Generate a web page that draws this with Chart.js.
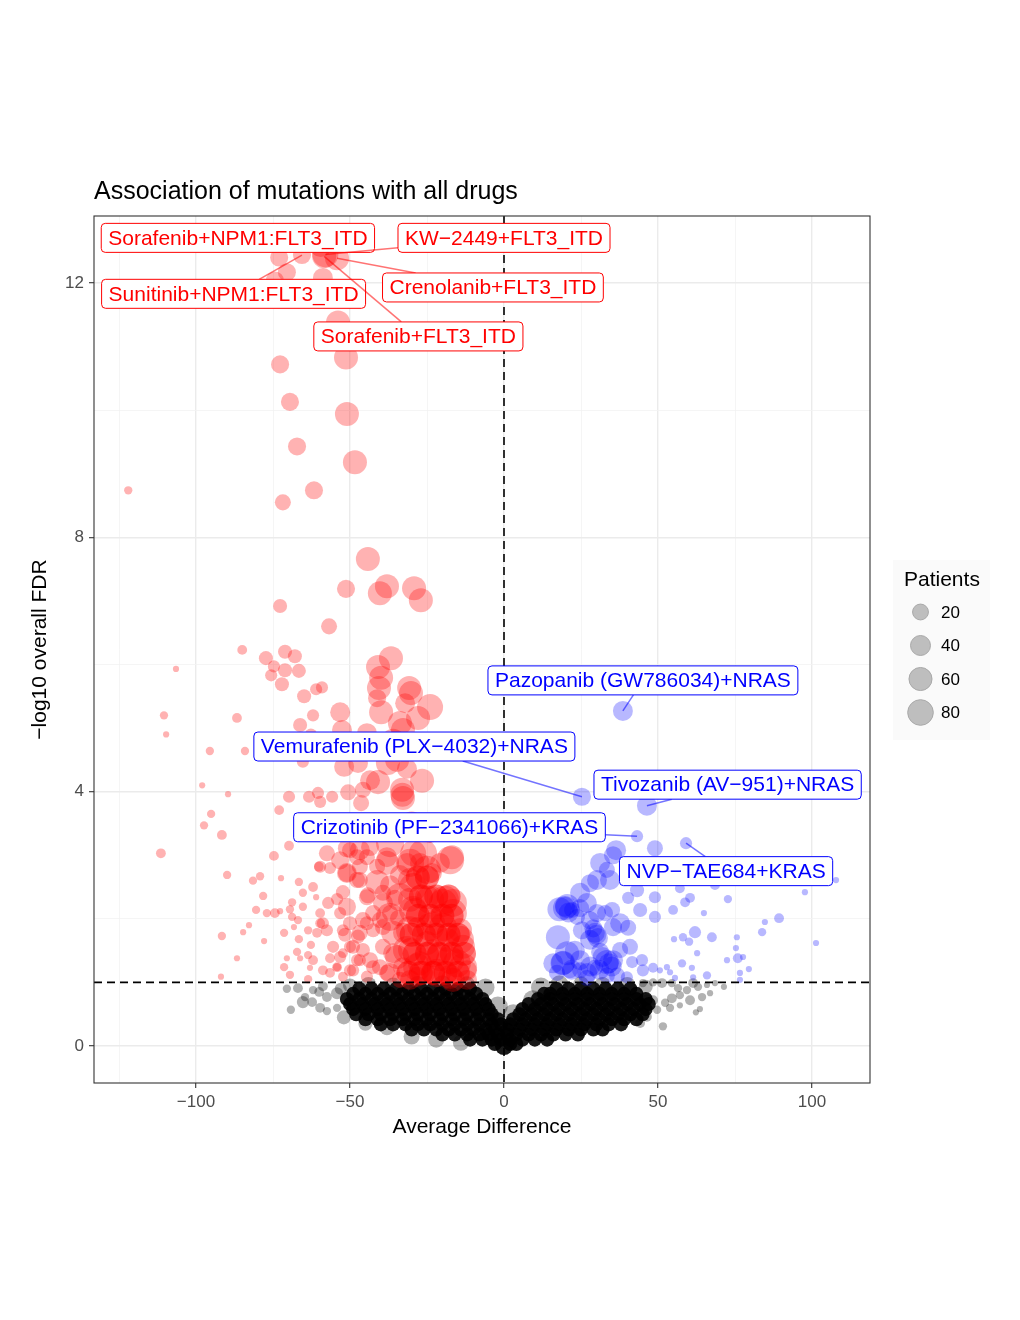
<!DOCTYPE html>
<html>
<head>
<meta charset="utf-8">
<script src="https://cdn.jsdelivr.net/npm/chart.js@4.4.1/dist/chart.umd.min.js"></script>
<style>
html, body { margin: 0; padding: 0; background: #fff; }
canvas { display: block; }
</style>
</head>
<body>
<canvas id="volcano" width="1020" height="1320"></canvas>
<script>
const FONT = '"Liberation Sans", Arial, Helvetica, sans-serif'

// [average difference, -log10 FDR, patients]
// significant, negative difference
const redPoints = [
    [-72.7,10.72,35],[-69.5,10.13,35],[-51.3,10.83,75],[-51.0,9.94,75],[-67.2,9.43,35],[-48.4,9.18,75],
    [-61.7,8.74,35],[-71.8,8.55,25],[-122,8.74,4],[-53.9,11.38,75],
    [-73,12.4,35],[-65.6,12.44,35],[-70.5,12.17,35],[-58,12.45,92],[-54.2,12.39,75],[-58.4,12.42,75],
    [-59.5,12.6,75],[-58.8,12.08,46],[-74.4,12.04,35],
    [-44.2,7.66,75],[-51.3,7.19,35],[-38,7.23,75],[-40.3,7.12,75],[-29.2,7.2,75],[-27,7.01,75],
    [-72.7,6.92,17],[-56.8,6.6,25],[-85,6.23,6],[-77.3,6.1,17],[-71.1,6.2,17],[-67.9,6.13,17],
    [-74.7,5.97,11],[-71.1,5.91,17],[-66.6,5.9,17],[-75.6,5.83,11],[-72.1,5.69,17],[-59.1,5.64,11],
    [-61,5.61,11],[-64.9,5.5,17],
    [-36.7,6.1,75],[-40.9,5.96,75],[-39.9,5.79,75],[-40.6,5.63,75],[-41.2,5.47,35],[-39.9,5.25,75],
    [-30.8,5.63,75],[-30.2,5.55,75],[-32.1,5.39,46],[-24,5.33,92],[-53.2,5.25,46],[-62,5.2,11],
    [-86.7,5.16,6],[-106.5,5.93,3],[-110.4,5.2,4],[-109.7,4.9,3],[-66.2,5.05,17],[-33.8,5.08,75],
    [-27.9,5.16,75],[-32.8,4.97,75],[-52.6,4.97,46],[-44.5,4.92,46],[-62.7,4.9,11],[-95.5,4.64,4],
    [-84.1,4.64,4],[-65.3,4.47,11],[-51.9,4.39,46],[-47.4,4.45,46],[-37.7,4.45,75],[-34.7,4.5,75],
    [-31.5,4.36,46],[-40.9,4.15,75],[-43.5,4.18,46],[-26.6,4.17,75],[-33.1,4.03,75],[-32.8,3.9,75],
    [-33,3.95,75],[-36,4.8,75],[-30,4.75,75],[-42,4.7,46],
    [-50.6,3.99,25],[-45.8,4.03,25],[-46.4,3.82,25],[-55.8,3.92,11],[-60.4,3.98,11],[-59.7,3.84,11],
    [-63.3,3.92,11],[-69.8,3.92,11],[-73,3.71,6],[-98,4.1,3],[-89.6,3.96,3],[-95.1,3.65,4],[-97.4,3.47,4],
    [-38,3.4,75],[-30,3.5,75],[-24,3.35,46],[-45,3.45,46],
    [-91.6,3.32,6],[-111.4,3.03,6],[-89.9,2.69,4],[-74.7,2.99,6],[-69.8,3.15,6],[-81.5,2.6,4],
    [-79.2,2.67,4],[-72.4,2.64,3],[-78.2,2.36,4],[-66.6,2.58,4],[-65.3,2.41,4],[-60.1,2.82,6],
    [-56.5,2.8,11],[-80.5,2.14,4],[-77,2.09,4],[-74.4,2.09,6],[-72.7,2.12,3],[-69.5,2.15,4],
    [-68.8,2.03,4],[-65.3,2.19,4],[-68.8,2.26,4],[-66.9,1.98,4],[-68.2,1.87,3],[-61,2.34,3],
    [-91.6,1.73,4],[-84.7,1.79,3],[-82.8,1.9,3],[-77.9,1.65,3],[-86.7,1.38,3],[-91.9,1.09,3],
    [-71.4,1.78,4],[-66.6,1.68,4],[-70.5,1.38,3],[-71.4,1.24,4],[-69.5,1.12,4],[-67.2,1.48,4],
    [-66.2,1.38,3],[-63.6,1.43,4],[-63,1.23,3],[-63.6,1.05,4],[-62.7,1.59,4],[-63.6,1.82,4],
    [-60.7,1.78,6],[-58.8,1.93,11],[-57.1,2.25,11],[-54.2,2.31,11],[-59.7,2.09,6],[-56.5,1.38,6],
    [-56.5,1.15,6],[-54.2,1.24,4],[-52.3,1.46,6],[-51.6,1.75,17],[-51,2.19,35],[-50,1.93,17],
    [-53.2,2.09,11],[-52.3,2.42,17],[-51,2.72,35],[-47.7,2.61,25],[-51,3.11,35],[-44.5,2.97,25],
    [-47.7,2.97,25],[-43.5,3.13,35],[-46.8,2.82,25],[-44.5,2.34,25],[-45.8,1.98,25],[-47.4,1.72,17],
    [-49,1.56,17],[-45.8,1.51,17],[-47.7,1.35,11],[-49,1.19,11],[-42.5,1.82,17],[-40.3,1.98,25],
    [-41.2,2.58,75],[-38,2.88,75],[-37,3.19,111],[-39.3,2.41,25],[-43.5,1.35,25],[-40.3,1.24,25],
    [-39.3,1.56,25],[-37,2.03,111],[-36,1.78,75],[-34.7,1.4,75],[-37,1.15,46],[-30.5,2.88,111],
    [-29.5,2.5,111],[-33.8,2.34,111],[-29.5,2.14,111],[-30.5,1.82,111],[-31.5,1.51,111],[-28.2,1.24,111],
    [-26.3,3.03,111],[-25,2.77,111],[-24,2.3,111],[-19.8,2.25,111],[-16.6,2.25,111],[-17.5,2.92,111],
    [-24,1.87,111],[-19.8,1.87,111],[-14.3,1.67,111],[-23,1.46,111],[-17.5,1.35,111],[-13.3,1.24,111],
    [-21.8,1.15,111],[-16.6,1.04,75],[-12,1.04,46],[-26.3,1.15,75],[-30.5,1.04,46],[-52.3,1.09,6],
    [-16.9,2.97,75],[-20.8,2.88,46],[-23.4,2.72,46],[-29.5,3.03,92],[-31.5,2.88,46],[-27.3,2.88,46],
    [-33.8,2.69,46],[-30.5,2.61,75],[-37,2.53,46],[-39.3,2.25,46],[-35.4,2.33,25],[-30.5,2.3,75],
    [-25,2.34,75],[-19.2,2.3,111],[-16.6,2.09,111],[-28.9,2.14,75],[-34.4,2.01,25],[-37,2.09,25],
    [-39.3,1.87,25],[-32.8,1.78,46],[-28.2,1.87,46],[-23,1.93,75],[-14.3,1.82,75],[-18.5,1.67,75],
    [-25,1.62,75],[-30.5,1.51,75],[-36,1.46,46],[-13.3,1.56,75],[-20.8,1.4,111],[-15.3,1.3,111],
    [-27.3,1.3,75],[-32.8,1.24,46],[-23,1.15,75],[-12,1.19,46],[-17.5,1.09,75],[-28.2,1.09,46],
    [-38,1.15,25],[-42.5,1.24,17],[-46.8,1.35,11],[-50,1.56,11],[-52.3,1.82,11],[-46.8,1.78,25],
    [-44.5,1.93,17],[-42.5,2.09,25],[-44.2,2.37,25],[-46.8,2.61,25],[-51,2.72,46],[-53.2,2.92,35],
    [-57.5,3.03,25],[-59.7,2.82,11],[-62,2.5,6],[-41.2,2.82,25],[-38,2.97,46],[-46.8,3.08,46],
    [-50,3.08,25],[-55.5,1.56,11],[-57.5,1.82,11],[-59.7,1.93,6],[-53.2,1.4,11],[-62,1.35,6],
    [-58.8,1.19,6],[-54.2,1.24,6],[-50,1.19,11],[-44.5,1.09,11],[-33.8,1.04,25]
]

// significant, negative difference: the saturated heart of the red cloud
const redCore = [
    [-31,1.15,75],[-27,1.15,75],[-23,1.15,75],[-19,1.15,75],[-15,1.15,75],
    [-29,1.45,75],[-25,1.45,75],[-21,1.45,75],[-17,1.45,75],[-13,1.45,75],
    [-30,1.75,75],[-26,1.75,75],[-22,1.75,75],[-18,1.75,75],[-15,1.75,75],
    [-28,2.05,75],[-24,2.05,75],[-20,2.05,75],[-17,2.05,75],
    [-27,2.35,75],[-22,2.35,75],[-18,2.35,75],
    [-28,2.65,75],[-25,2.65,75]
]

// significant, positive difference
const bluePoints = [
    [38.6,5.27,46],[25.3,3.92,35],[46.4,3.78,46],[43.2,3.3,11],[59.1,3.19,11],
    [49,3.11,25],[36.4,3.08,46],[35.4,3.0,35],[31.2,2.88,46],[33.4,2.77,25],[34.4,2.61,46],
    [30.2,2.61,46],[27.9,2.56,35],[24.7,2.41,46],[26.9,2.25,46],[19.8,2.19,46],[22.1,2.14,25],
    [23.7,2.03,25],[30.2,2.09,35],[32.8,2.09,25],[35.1,2.14,25],[40.3,2.33,11],[43.2,2.45,17],
    [49,2.34,11],[44.2,2.14,17],[49,2.03,11],[54.9,2.14,6],[57.1,2.48,6],[58.8,2.26,6],[60.4,2.33,6],
    [68.5,2.53,6],[72.7,2.31,4],[64.9,2.09,3],[62,1.79,11],[67.5,1.71,6],[58.1,1.71,4],[55.2,1.68,3],
    [60.1,1.64,4],[62.7,1.46,3],[57.8,1.3,4],[61,1.23,3],[52.9,1.24,3],[53.9,1.16,3],[50.6,1.19,3],
    [48.4,1.23,6],[55.5,1.07,3],[61.4,1.08,3],[65.9,1.11,4],[75.6,1.71,3],[75.3,1.54,3],[75.9,1.38,6],
    [72.4,1.35,3],[77.6,1.4,3],[76.6,1.15,3],[79.5,1.21,3],[76.6,1.04,3],[83.8,1.79,4],[84.7,1.95,3],
    [89.3,2.01,6],[97.7,2.42,3],[101.3,1.62,3],[107.8,2.61,3],
    [19.8,2.17,75],[20.5,2.2,75],[17.5,1.71,75],[20.5,1.46,75],[19.2,1.31,75],[24.7,1.35,46],
    [27.9,1.67,46],[29.5,1.78,46],[30.5,1.7,46],[33.4,1.32,75],[35.4,1.35,46],[37.7,1.51,25],
    [40.9,1.56,25],[40.3,1.86,25],[41.6,1.32,11],[44.8,1.35,11],[45.1,1.19,11],[29.5,1.23,25],
    [24.7,1.19,25],[21.4,1.19,25],[17.2,1.15,25],[36.7,1.11,25],[39.9,1.08,11],[33.4,1.11,25],
    [26.9,1.07,25],[31.2,1.48,35],[27.9,1.98,35],[25.3,1.82,35],[35.4,1.87,35],[24.7,2.17,35],
    [37.7,1.93,46],[34,1.3,46],[32,1.4,46],[16,1.3,46],[23,1.5,46],[28,1.25,46],
    [18,2.15,75],[21,2.1,46],[19,1.3,75],[22,1.2,46],[27,1.15,46],[31,1.2,46],[35,1.25,46],
    [30,1.75,46],[29,1.85,35]
]

// not significant: dense mass, one row per FDR level -> [-log10 FDR, patients, differences]
const blackRows = [
    [0.90, 17, [-47,-43,-39,-35,-31,-27,-23,-19,-15,-11, 17,21,25,29,33,37,41]],
    [0.82, 17, [-49,-45,-41,-37,-33,-29,-25,-21,-17,-13,-9, 13,15,19,23,27,31,35,39,43]],
    [0.74, 17, [-51,-47,-43,-39,-35,-31,-27,-23,-19,-15,-11,-7, 11,15,19,23,27,31,35,39,43,46]],
    [0.66, 17, [-50,-46,-42,-38,-34,-30,-26,-22,-18,-14,-10,-6, 8,12,16,20,24,28,32,36,40,44,47]],
    [0.58, 17, [-49,-45,-41,-37,-33,-29,-25,-21,-17,-13,-9,-5, 6,10,14,18,22,26,30,34,38,42,46]],
    [0.50, 17, [-48,-44,-40,-36,-32,-28,-24,-20,-16,-12,-8,-4, 5,9,13,17,21,25,29,33,37,41,45]],
    [0.42, 17, [-45,-41,-37,-33,-29,-25,-21,-17,-13,-9,-5,-2, 3,7,11,15,19,23,27,31,35,39,43]],
    [0.34, 17, [-40,-36,-32,-28,-24,-20,-16,-12,-8,-4,-1, 2,6,10,14,18,22,26,30,34,38]],
    [0.26, 17, [-30,-26,-22,-18,-14,-10,-6,-3, 1,5,9,13,17,21,25,29,32]],
    [0.18, 17, [-20,-16,-12,-8,-5,-2, 1,4,8,12,16,20,24]],
    [0.10, 17, [-11,-7,-4,-1, 2,6,10,14]],
    [0.03, 17, [-3,2,4]],
    [0.00, 35, [0]]
]

// not significant: scattered points at the edge of the mass
const blackEdge = [
    [-70.5,0.9,4],[-66.9,0.91,6],[-65.3,0.69,11],[-62.3,0.69,6],[-69.2,0.57,4],[-64.6,0.77,4],
    [-62,0.88,4],[-60,0.85,6],[-58.8,0.94,6],[-57.5,0.77,6],[-59.7,0.6,6],[-57.5,0.55,4],
    [-54.2,0.6,4],[-54.2,0.83,11],[-52,0.45,17],[-53,0.9,11],[-50,0.95,17],[-45,0.35,17],
    [-38,0.28,17],[-30,0.15,25],[-22,0.1,25],[-14,0.05,25],[-5.5,0.52,46],[-2,0.62,46],
    [-6,0.92,35],[-12,0.97,25],[-20,0.97,35],[-28,0.96,35],[-36,0.95,25],[-44,0.96,25],
    [9.4,0.72,46],[3,0.5,46],[12,0.92,46],[18,0.97,35],[25,0.97,25],[32,0.96,25],[40,0.96,25],
    [46,0.93,17],[45.1,0.99,4],[48.4,1.0,4],[51.3,0.99,6],[54.5,0.99,4],[56.5,0.91,4],[61.4,0.99,6],
    [63,0.93,4],[65.9,0.96,3],[68.5,0.99,3],[71.4,0.93,3],[66.9,0.83,3],[64.3,0.77,4],[60.4,0.72,6],
    [57.1,0.8,4],[54.5,0.75,6],[52.3,0.68,4],[48.4,0.72,6],[49.7,0.57,4],[46.4,0.46,6],[51.6,0.31,4],
    [53.9,0.6,4],[57.1,0.64,3],[62.3,0.53,3],[63.6,0.58,3],[59.4,0.88,4],[44.2,0.36,6],[43.2,0.68,11],
    [46.4,0.72,11]
]

// labelled combinations: name, point, label box centre
const labelNames = [
    'Sorafenib+NPM1:FLT3_ITD', 'KW\u22122449+FLT3_ITD', 'Sunitinib+NPM1:FLT3_ITD',
    'Crenolanib+FLT3_ITD', 'Sorafenib+FLT3_ITD', 'Pazopanib (GW786034)+NRAS',
    'Vemurafenib (PLX\u22124032)+NRAS', 'Tivozanib (AV\u2212951)+NRAS',
    'Crizotinib (PF\u22122341066)+KRAS', 'NVP\u2212TAE684+KRAS'
]
const labelPoints = [
    [-59.5,12.6], [-58,12.45], [-65.6,12.44], [-54.2,12.39], [-58.4,12.42],
    [38.6,5.27], [25.3,3.92], [46.4,3.78], [43.2,3.3], [59.1,3.19]
]
const labelPlaces = [
    [-86.4,12.71], [0,12.71], [-87.8,11.83], [-3.6,11.93], [-27.8,11.16],
    [45.1,5.75], [-29.1,4.71], [72.6,4.11], [-17.7,3.44], [72.1,2.75]
]

const xTicks = [-100, -50, 0, 50, 100]
const xMinor = [-125, -75, -25, 25, 75]
const yTicks = [0, 4, 8, 12]
const yMinor = [2, 6, 10]
const legendSizes = [20, 40, 60, 80]

// patients -> radius in pixels
function sizeOf(p) {
    return 3.1 + 1.05 * Math.sqrt(Math.max(0, p - 3))
}

function toBubbles(points) {
    return points.map(([x, y, p]) => ({ x: x, y: y, r: sizeOf(p) }))
}

function rowsToBubbles(rows) {
    const out = []
    rows.forEach(([y, p, xs]) => {
        xs.forEach((x) => out.push({ x: x, y: y, r: sizeOf(p) }))
    })
    return out
}

function fmt(v) {
    return v < 0 ? '\u2212' + Math.abs(v) : String(v)
}

function gridOpts(major) {
    return {
        color: (c) => major.includes(c.tick.value) ? '#ebebeb' : '#f3f3f3',
        lineWidth: (c) => major.includes(c.tick.value) ? 1.4 : 0.8,
        tickColor: (c) => major.includes(c.tick.value) ? '#333333' : 'rgba(0,0,0,0)',
        tickLength: 5,
        tickWidth: 1.1
    }
}

function roundRect(ctx, x, y, w, h, r) {
    ctx.beginPath()
    ctx.moveTo(x + r, y)
    ctx.lineTo(x + w - r, y)
    ctx.arcTo(x + w, y, x + w, y + r, r)
    ctx.lineTo(x + w, y + h - r)
    ctx.arcTo(x + w, y + h, x + w - r, y + h, r)
    ctx.lineTo(x + r, y + h)
    ctx.arcTo(x, y + h, x, y + h - r, r)
    ctx.lineTo(x, y + r)
    ctx.arcTo(x, y, x + r, y, r)
    ctx.closePath()
}

// dashed cut-offs, repelled labels, frame, titles and legend
const decor = {
    id: 'decor',
    afterDatasetsDraw(chart) {
        const ctx = chart.ctx
        const area = chart.chartArea
        const sx = chart.scales.x
        const sy = chart.scales.y

        ctx.save()
        ctx.strokeStyle = '#000'
        ctx.lineWidth = 1.6
        ctx.setLineDash([8, 5])
        const x0 = sx.getPixelForValue(0)
        const y1 = sy.getPixelForValue(1)
        ctx.beginPath()
        ctx.moveTo(x0, area.top)
        ctx.lineTo(x0, area.bottom)
        ctx.moveTo(area.left, y1)
        ctx.lineTo(area.right, y1)
        ctx.stroke()
        ctx.setLineDash([])

        ctx.font = '21px ' + FONT
        ctx.textBaseline = 'middle'
        labelNames.forEach((name, i) => {
            const isRed = labelPoints[i][0] < 0
            const colour = isRed ? '#ff0000' : '#0000ff'
            const w = ctx.measureText(name).width + 14
            const h = 29
            const cx = sx.getPixelForValue(labelPlaces[i][0])
            const cy = sy.getPixelForValue(labelPlaces[i][1])
            const l = cx - w / 2, t = cy - h / 2, r = cx + w / 2, b = cy + h / 2
            const px = sx.getPixelForValue(labelPoints[i][0])
            const py = sy.getPixelForValue(labelPoints[i][1])

            if (px < l || px > r || py < t || py > b) {
                let tx = 0, ty = 0
                if (px < l) tx = (l - px) / (cx - px)
                if (px > r) tx = (r - px) / (cx - px)
                if (py < t) ty = (t - py) / (cy - py)
                if (py > b) ty = (b - py) / (cy - py)
                const k = Math.max(tx, ty)
                ctx.strokeStyle = isRed ? 'rgba(255,0,0,0.55)' : 'rgba(0,0,255,0.55)'
                ctx.lineWidth = 1.5
                ctx.beginPath()
                ctx.moveTo(px, py)
                ctx.lineTo(px + k * (cx - px), py + k * (cy - py))
                ctx.stroke()
            }

            roundRect(ctx, l, t, w, h, 4)
            ctx.fillStyle = '#ffffff'
            ctx.fill()
            ctx.strokeStyle = colour
            ctx.lineWidth = 1
            ctx.stroke()
            ctx.fillStyle = colour
            ctx.textAlign = 'left'
            ctx.fillText(name, l + 7, cy + 1)
        })
        ctx.restore()
    },
    afterDraw(chart) {
        const ctx = chart.ctx
        const area = chart.chartArea
        ctx.save()

        ctx.strokeStyle = '#333333'
        ctx.lineWidth = 1.1
        ctx.strokeRect(area.left, area.top, area.right - area.left, area.bottom - area.top)

        ctx.fillStyle = '#000'
        ctx.textBaseline = 'alphabetic'
        ctx.textAlign = 'left'
        ctx.font = '25px ' + FONT
        ctx.fillText('Association of mutations with all drugs', area.left, 199)

        ctx.font = '21px ' + FONT
        ctx.textAlign = 'center'
        ctx.textBaseline = 'middle'
        ctx.fillText('Average Difference', (area.left + area.right) / 2, 1127)

        ctx.save()
        ctx.translate(40, (area.top + area.bottom) / 2)
        ctx.rotate(-Math.PI / 2)
        ctx.fillText('\u2212log10 overall FDR', 0, 0)
        ctx.restore()

        // size legend
        ctx.fillStyle = '#fafafa'
        ctx.fillRect(893, 560, 97, 180)
        ctx.fillStyle = '#000'
        ctx.textAlign = 'left'
        ctx.font = '21px ' + FONT
        ctx.fillText('Patients', 904, 580)
        ctx.font = '17px ' + FONT
        legendSizes.forEach((p, i) => {
            const y = 612 + i * 33.5
            ctx.beginPath()
            ctx.arc(920.5, y, sizeOf(p) + 0.5, 0, Math.PI * 2)
            ctx.fillStyle = '#bebebe'
            ctx.fill()
            ctx.strokeStyle = '#a9a9a9'
            ctx.lineWidth = 1
            ctx.stroke()
            ctx.fillStyle = '#000'
            ctx.fillText(String(p), 941, y + 1)
        })
        ctx.restore()
    }
}

new Chart(document.getElementById('volcano'), {
    type: 'bubble',
    data: {
        datasets: [
            { label: 'up', data: toBubbles(redPoints), backgroundColor: 'rgba(255,0,0,0.3)', borderWidth: 0 },
            { label: 'up core', data: toBubbles(redCore), backgroundColor: 'rgba(255,0,0,0.5)', borderWidth: 0 },
            { label: 'down', data: toBubbles(bluePoints), backgroundColor: 'rgba(0,0,255,0.28)', borderWidth: 0 },
            { label: 'edge', data: toBubbles(blackEdge), backgroundColor: 'rgba(0,0,0,0.3)', borderWidth: 0 },
            { label: 'core', data: rowsToBubbles(blackRows), backgroundColor: 'rgba(0,0,0,0.9)', borderWidth: 0 }
        ]
    },
    options: {
        responsive: false,
        animation: false,
        events: [],
        devicePixelRatio: 1,
        layout: { padding: { left: 0, right: 150, top: 216, bottom: 197 } },
        plugins: { legend: { display: false }, tooltip: { enabled: false }, title: { display: false } },
        scales: {
            x: {
                type: 'linear',
                min: -133.12,
                max: 118.83,
                afterBuildTicks: (s) => { s.ticks = xMinor.concat(xTicks).sort((a, b) => a - b).map(v => ({ value: v })) },
                afterFit: (s) => { s.height = 40 },
                grid: gridOpts(xTicks),
                border: { display: false },
                ticks: {
                    autoSkip: false, maxRotation: 0, padding: 4, color: '#4d4d4d',
                    font: { family: FONT, size: 17 },
                    callback: (v) => xTicks.includes(v) ? fmt(v) : ''
                }
            },
            y: {
                type: 'linear',
                min: -0.582,
                max: 13.054,
                afterBuildTicks: (s) => { s.ticks = yMinor.concat(yTicks).sort((a, b) => a - b).map(v => ({ value: v })) },
                afterFit: (s) => { s.width = 94 },
                grid: gridOpts(yTicks),
                border: { display: false },
                ticks: {
                    autoSkip: false, padding: 5, color: '#4d4d4d',
                    font: { family: FONT, size: 17 },
                    callback: (v) => yTicks.includes(v) ? fmt(v) : ''
                }
            }
        }
    },
    plugins: [decor]
})
</script>
</body>
</html>
